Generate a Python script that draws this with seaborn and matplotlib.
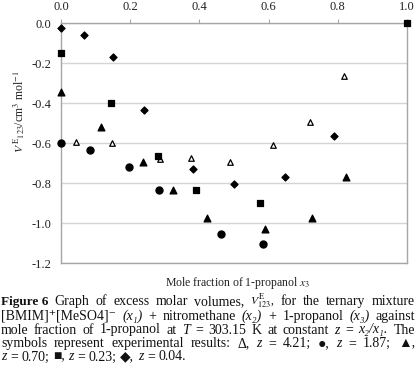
"""
Excess molar volumes of the ternary mixture, Figure 6 redraw.
"""

import matplotlib
matplotlib.use("Agg")

import matplotlib.pyplot as plt
import pandas as pd
import seaborn as sns

# ----------------------------------------------------------
# Data
# ----------------------------------------------------------

Z_LABELS = ["4.21", "1.87", "0.70", "0.23", "0.04"]

X_Z421 = [0.043, 0.146, 0.286, 0.376, 0.489, 0.614, 0.721, 0.818]
Y_Z421 = [-0.593, -0.600, -0.682, -0.677, -0.697, -0.608, -0.497, -0.265]

X_Z187 = [0.0, 0.084, 0.196, 0.284, 0.462, 0.585]
Y_Z187 = [-0.602, -0.637, -0.718, -0.837, -1.055, -1.105]

X_Z070 = [0.0, 0.116, 0.238, 0.323, 0.423, 0.591, 0.724, 0.824]
Y_Z070 = [-0.347, -0.518, -0.695, -0.837, -0.977, -1.028, -0.975, -0.770]

X_Z023 = [0.0, 0.145, 0.280, 0.389, 0.575, 1.0]
Y_Z023 = [-0.148, -0.402, -0.665, -0.837, -0.900, 0.0]

X_Z004 = [0.0, 0.066, 0.150, 0.240, 0.381, 0.499, 0.648, 0.789]
Y_Z004 = [-0.023, -0.058, -0.172, -0.435, -0.730, -0.807, -0.772, -0.563]

X_TICKS = [0.0, 0.2, 0.4, 0.6, 0.8, 1.0]
Y_TICKS = [0.0, -0.2, -0.4, -0.6, -0.8, -1.0, -1.2]

# marker, face colour, size
STYLES = {
    "4.21": ("^", "white", 16),
    "1.87": ("o", "black", 26),
    "0.70": ("^", "black", 24),
    "0.23": ("s", "black", 24),
    "0.04": ("D", "black", 13),
}

# caption words: "b:" bold, "i:" italic, "m:" small math, else plain
CAPTION = [
    ["b:Figure 6", "Graph", "of", "excess", "molar", "volumes,",
     r"m:$V^{\mathrm{E}}_{123}$,", "for", "the", "ternary", "mixture"],
    ["[BMIM]⁺[MeSO4]⁻", "i:(x₁)", "+", "nitromethane", "i:(x₂)", "+",
     "1-propanol", "i:(x₃)", "against"],
    ["mole", "fraction", "of", "1-propanol", "at", "i:T", "=", "303.15",
     "K", "at", "constant", "i:z", "=", "i:x₂/x₁.", "The"],
    ["symbols", "represent", "experimental", "results:", "Δ,", "i:z", "=",
     "4.21;", "●,", "i:z", "=", "1.87;", "▲,"],
    ["i:z", "=", "0.70;", "■,", "i:z", "=", "0.23;", "◆,", "i:z", "=",
     "0.04."],
]

W, H = 416, 376


def build_frame():
    frames = []
    for label, xs, ys in zip(
        Z_LABELS,
        [X_Z421, X_Z187, X_Z070, X_Z023, X_Z004],
        [Y_Z421, Y_Z187, Y_Z070, Y_Z023, Y_Z004],
    ):
        frames.append(pd.DataFrame({"x3": xs, "vE": ys, "z": label}))
    return pd.concat(frames, ignore_index=True)


def draw_caption(fig):
    renderer = fig.canvas.get_renderer()
    family = ["Liberation Serif", "DejaVu Sans"]
    left, right = 1, 415
    baselines = [305, 320, 333.5, 347, 360.5]

    for i, (line, base) in enumerate(zip(CAPTION, baselines)):
        texts = []
        for word in line:
            weight, style, size = "normal", "normal", 10
            if word.startswith("b:"):
                word, weight, size = word[2:], "bold", 9.5
            elif word.startswith("i:"):
                word, style = word[2:], "italic"
            elif word.startswith("m:"):
                word, size = word[2:], 8.5
            t = fig.text(0, 1 - base / H, word, fontsize=size,
                         fontweight=weight, fontstyle=style, family=family,
                         va="baseline", ha="left", color="#111111")
            texts.append(t)
        widths = [t.get_window_extent(renderer).width for t in texts]
        last = i == len(CAPTION) - 1
        if last:
            gap = 3.6
        else:
            gap = (right - left - sum(widths)) / (len(texts) - 1)
        x = left
        for t, w in zip(texts, widths):
            t.set_x(x / W)
            x += w + gap


def main():
    data = build_frame()

    sns.set_style("white")
    plt.rcParams["font.family"] = ["Liberation Serif", "DejaVu Sans"]
    plt.rcParams["mathtext.fontset"] = "stix"

    fig = plt.figure(figsize=(W / 100, H / 100), dpi=100)
    ax = fig.add_axes([61 / W, 1 - 263 / H, 346 / W, 240 / H])

    for label in Z_LABELS:
        marker, face, size = STYLES[label]
        sns.scatterplot(
            data=data[data["z"] == label],
            x="x3",
            y="vE",
            marker=marker,
            color=face,
            edgecolor="black",
            linewidth=0.9,
            s=size,
            clip_on=False,
            zorder=5,
            legend=False,
            ax=ax,
        )

    ax.set_xlim(0, 1)
    ax.set_ylim(-1.2, 0)
    ax.set_xticks(X_TICKS)
    ax.set_yticks(Y_TICKS)
    ax.set_xticklabels([f"{v:.1f}" for v in X_TICKS])
    ax.set_yticklabels([f"{v:.1f}" for v in Y_TICKS])

    ax.xaxis.tick_top()
    ax.tick_params(axis="x", direction="out", length=3, width=0.8,
                   color="#a6a6a6", pad=4, labelsize=9, labelcolor="#222222")
    ax.tick_params(axis="y", direction="out", length=6, width=0.8,
                   color="#c8c8c8", pad=1, labelsize=9, labelcolor="#222222")

    ax.yaxis.grid(True, color="#d4d4d4", linewidth=1.0)
    ax.xaxis.grid(False)
    ax.set_axisbelow(True)

    for side in ["top", "bottom", "right", "left"]:
        ax.spines[side].set_color("#a6a6a6")
        ax.spines[side].set_linewidth(1.0)

    ax.set_xlabel("")
    ax.set_ylabel("")

    fig.text(238 / W, 1 - 283 / H, r"Mole fraction of 1-propanol $x_3$",
             ha="center", va="center", fontsize=8.5, color="#222222")
    fig.text(19 / W, 1 - 112 / H,
             r"$V^{\,\mathrm{E}}{}_{123}$/cm$^{3}$ mol$^{-1}$",
             ha="center", va="center", rotation=90, fontsize=8.5,
             color="#222222")

    draw_caption(fig)

    fig.savefig("out.png", dpi=100)
    plt.close(fig)


if __name__ == "__main__":
    main()
